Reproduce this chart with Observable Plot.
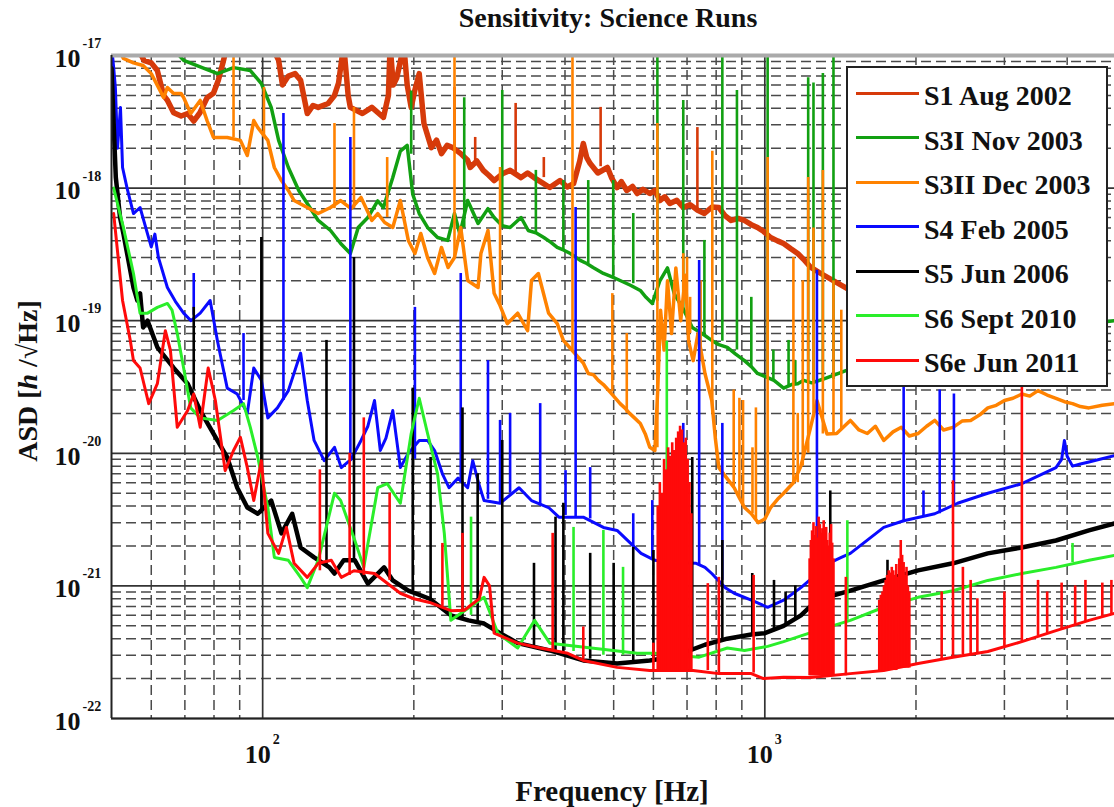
<!DOCTYPE html>
<html>
<head>
<meta charset="utf-8">
<script src="https://cdn.jsdelivr.net/npm/d3@7"></script>
<script src="https://cdn.jsdelivr.net/npm/@observablehq/plot@0.6"></script>
<style>
  body { margin: 0; background: #fff; }
  #wrap { position: relative; width: 1114px; height: 807px; overflow: hidden;
          font-family: "Liberation Serif", "Times New Roman", serif; font-weight: bold; color: #111; }
  #wrap svg { position: absolute; left: 0; top: 0; }
  .lbl { position: absolute; white-space: nowrap; transform: translate(-50%, -50%); }
  #title { left: 608px; top: 18px; font-size: 28px; }
  #xlabel { left: 612px; top: 791px; font-size: 29px; }
  #ylabel { left: 28px; top: 381px; font-size: 28px; transform: translate(-50%, -50%) rotate(-90deg); }
  #legend { position: absolute; left: 846px; top: 66px; width: 262px; height: 321px; box-sizing: border-box;
            border: 2px solid #222; background: #fff; }
  .row-line { position: absolute; left: 8px; width: 63px; height: 3px; }
  .row-text { position: absolute; left: 76px; height: 30px; line-height: 30px; font-size: 28px; white-space: nowrap; }
</style>
</head>
<body>
<div id="wrap">
  <div id="title" class="lbl">Sensitivity: Science Runs</div>
  <div id="xlabel" class="lbl">Frequency [Hz]</div>
  <div id="ylabel" class="lbl">ASD [<i>h</i> /√Hz]</div>
</div>
<script>
// Observing runs shown in the legend, with their trace colours
const runNames = ["S1 Aug 2002", "S3I Nov 2003", "S3II Dec 2003", "S4 Feb 2005", "S5 Jun 2006", "S6 Sept 2010", "S6e Jun 2011"];
const runColors = ["#d63a0a", "#12a012", "#ff8200", "#0a0aff", "#000000", "#2aee2a", "#ff0a0a"];

// Axis ticks
const xTicks = [100, 1000];
const yTicks = [1e-22, 1e-21, 1e-20, 1e-19, 1e-18, 1e-17];

// Broadband noise floor of each run: [frequency Hz, strain ASD]
const s1Curve = [
  [56, 1.2e-17], [58, 9.2e-18], [60, 8.8e-18], [61.7, 7.7e-18], [63.5, 5e-18], [64.6, 4.6e-18], [66.5, 3.7e-18],
  [68.8, 3.5e-18], [70.9, 3.65e-18], [72.9, 3.2e-18], [75, 3.7e-18], [77.5, 4.8e-18], [79.8, 5.2e-18], [81.6, 6.5e-18],
  [83.4, 8.9e-18], [85, 1.2e-17], [104, 1.2e-17], [107.6, 9.2e-18], [109.5, 6e-18], [112.5, 7e-18], [116, 7.3e-18],
  [119, 6.5e-18], [122.7, 3.65e-18], [126, 4.2e-18], [129, 4.06e-18], [135, 4.35e-18], [139, 5.0e-18], [141.6, 6.2e-18],
  [145, 1.2e-17], [148, 5e-18], [149.5, 4.06e-18], [158, 3.65e-18], [165, 4.06e-18], [174, 3.41e-18], [178, 5e-18],
  [179.4, 1.2e-17], [182, 6e-18], [185, 6.8e-18], [188, 9e-18], [191, 1.2e-17], [194, 6e-18], [197.6, 4.06e-18],
  [201, 5.5e-18], [205, 7.3e-18], [209.5, 3.07e-18], [216.7, 2.02e-18], [222, 2.3e-18], [227, 1.82e-18], [233, 2.1e-18],
  [239, 2.02e-18], [248, 1.82e-18], [256, 1.62e-18], [259, 1.43e-18], [267, 1.6e-18], [275, 1.36e-18], [282, 1.25e-18],
  [289, 1.14e-18], [301, 1.29e-18], [311, 1.36e-18], [327, 1.2e-18], [337, 1.3e-18], [347, 1.2e-18], [360, 1.1e-18],
  [373, 1.01e-18], [391, 1.14e-18], [404, 1.02e-18], [416, 1.08e-18], [428, 1.6e-18], [435, 2.17e-18], [442, 1.7e-18],
  [449, 1.53e-18], [465, 1.3e-18], [486, 1.43e-18], [495, 1.2e-18], [508, 1.01e-18], [518, 1.12e-18], [531, 9.6e-19],
  [545, 1.03e-18], [557, 9.1e-19], [572, 9.8e-19], [590, 9.1e-19], [604, 9.6e-19], [618, 8.06e-19], [632, 8.6e-19],
  [647, 7.65e-19], [668, 8.1e-19], [688, 7.14e-19], [710, 7.5e-19], [735, 6.8e-19], [758, 6.43e-19], [785, 7.2e-19],
  [810, 7.14e-19], [833, 6.2e-19], [857, 5.7e-19], [885, 5.9e-19], [911, 5.7e-19], [940, 5.3e-19], [967, 5.05e-19],
  [995, 4.7e-19], [1027, 4.24e-19], [1060, 4.0e-19], [1090, 3.82e-19], [1125, 3.5e-19], [1163, 3.21e-19],
  [1200, 2.85e-19], [1235, 2.52e-19], [1293, 2.27e-19], [1480, 1.69e-19], [2000, 1.2e-19]
];
const s3iCurve = [
  [64, 1.3e-17], [69.6, 9.2e-18], [75.1, 8.2e-18], [81.3, 7.3e-18], [87.5, 8.1e-18], [94.5, 7.7e-18], [99.4, 6.15e-18],
  [104, 4.06e-18], [107.6, 2.29e-18], [112.5, 1.43e-18], [118, 9.6e-19], [122.7, 7.65e-19], [129, 5.7e-19], [136.5, 4.79e-19],
  [143, 3.82e-19], [149.5, 3.21e-19], [155, 5.05e-19], [162, 6.0e-19], [169.5, 8e-19], [174, 7.14e-19], [181.6, 1.2e-18],
  [188, 1.9e-18], [194, 2.1e-18], [199, 9e-19], [205, 6.43e-19], [213, 5.05e-19], [223, 4.24e-19], [233.6, 4.03e-19],
  [241, 6.43e-19], [247, 4.5e-19], [256, 8.06e-19], [268.5, 5.41e-19], [281, 7e-19], [289, 6e-19], [300, 5.2e-19],
  [311, 5.05e-19], [327, 6.0e-19], [338, 4.79e-19], [350, 4.6e-19], [363, 4.24e-19], [375, 3.9e-19], [386, 3.57e-19],
  [398, 3.4e-19], [410, 3.21e-19], [429, 2.85e-19], [442, 2.7e-19], [455, 2.52e-19], [477, 2.27e-19], [495, 2.15e-19],
  [515, 2.01e-19], [540, 1.85e-19], [565, 1.69e-19], [580, 1.5e-19], [597, 1.35e-19], [618, 2e-19], [640, 2.5e-19],
  [660, 1.6e-19], [690, 1.2e-19], [717, 8.9e-20], [750, 8e-20], [784, 7.1e-20], [810, 6.6e-20], [842, 6.3e-20],
  [875, 5.6e-20], [911, 5.0e-20], [940, 4.5e-20], [967, 4.0e-20], [1000, 3.8e-20], [1043, 3.55e-20], [1090, 3.1e-20],
  [1130, 3.3e-20], [1163, 3.35e-20], [1195, 3.55e-20], [1240, 3.4e-20], [1300, 3.6e-20], [1450, 4.2e-20],
  [2000, 6e-20], [3000, 8e-20], [4970, 1e-19]
];
const s3iiCurve = [
  [51.6, 1.15e-17], [52.8, 9.5e-18], [55.3, 8.8e-18], [57.8, 8.4e-18], [60, 7.3e-18], [63.5, 4.82e-18], [64.6, 5.74e-18],
  [66.5, 5.17e-18], [68.8, 5.17e-18], [69.6, 4.82e-18], [71.9, 3.65e-18], [75.1, 4.58e-18], [77.5, 3.23e-18], [79.8, 2.41e-18],
  [82.5, 2.41e-18], [85, 2.41e-18], [90.3, 2.29e-18], [93.2, 1.76e-18], [96, 3.23e-18], [97.8, 2.86e-18], [102.4, 2.29e-18],
  [105.5, 1.43e-18], [109, 1.14e-18], [112.5, 9.6e-19], [115.5, 8.06e-19], [122.7, 7.14e-19], [129, 6.43e-19], [136.5, 7.14e-19],
  [143, 8.06e-19], [150, 7e-19], [157, 8.5e-19], [165, 5.7e-19], [169.5, 6.43e-19], [175, 5.5e-19], [181.6, 5.05e-19],
  [188, 8.06e-19], [195, 4.03e-19], [201, 3.21e-19], [206.5, 4.55e-19], [213, 3e-19], [220, 2.27e-19], [227, 3.57e-19],
  [234, 2.52e-19], [241, 3e-19], [248, 5.05e-19], [256, 2.01e-19], [268.5, 1.78e-19], [272, 3.21e-19], [281, 4.79e-19],
  [289, 1.61e-19], [297, 1.3e-19], [307, 9.5e-20], [322, 1.14e-19], [337, 8.4e-20], [343, 2.01e-19], [354, 2.27e-19],
  [371, 1.14e-19], [386, 9.5e-20], [397, 7.1e-20], [410, 6.2e-20], [425, 5.3e-20], [435, 4.8e-20], [445, 4.0e-20],
  [456, 3.9e-20], [466, 3.55e-20], [477, 3.3e-20], [488, 3e-20], [500, 2.7e-20], [515, 2.37e-20], [526, 2.2e-20],
  [538, 2.0e-20], [550, 1.85e-20], [565, 1.68e-20], [578, 1.4e-20], [590, 1.11e-20], [604, 1.05e-20], [612, 3e-20],
  [620, 1.2e-19], [630, 6e-20], [640, 2e-19], [652, 8e-20], [665, 2.5e-19], [680, 1e-19], [695, 2.2e-19], [705, 7e-20],
  [720, 5e-20], [736, 8e-20], [760, 4e-20], [784, 2.5e-20], [797, 1.3e-20], [810, 7.8e-21], [840, 6.5e-21],
  [869, 5.5e-21], [890, 4.6e-21], [911, 3.9e-21], [940, 3.5e-21], [970, 3.0e-21], [1000, 3.2e-21], [1027, 3.9e-21],
  [1060, 4.5e-21], [1090, 5.0e-21], [1140, 6e-21], [1180, 8e-21], [1230, 1.5e-20], [1270, 2.5e-20], [1330, 1.4e-20],
  [1390, 1.41e-20], [1480, 1.77e-20], [1540, 1.5e-20], [1600, 1.41e-20], [1660, 1.6e-20], [1725, 1.25e-20],
  [1800, 1.45e-20], [1870, 1.57e-20], [1940, 1.35e-20], [2020, 1.41e-20], [2100, 1.6e-20], [2180, 1.77e-20],
  [2270, 1.5e-20], [2370, 1.57e-20], [2470, 1.75e-20], [2570, 1.77e-20], [2680, 1.95e-20], [2780, 2.2e-20],
  [2890, 2.3e-20], [3000, 2.5e-20], [3120, 2.6e-20], [3250, 2.8e-20], [3370, 2.7e-20], [3500, 2.97e-20],
  [3650, 2.75e-20], [3800, 2.6e-20], [3950, 2.45e-20], [4100, 2.37e-20], [4250, 2.25e-20], [4420, 2.2e-20],
  [4700, 2.3e-20], [4970, 2.37e-20]
];
const s4Curve = [
  [50, 1.2e-17], [50.5, 8.1e-18], [50.9, 5.7e-18], [51.4, 2.0e-18], [52.1, 4.06e-18], [52.6, 1.43e-18], [53.7, 1e-18],
  [55.3, 6.43e-19], [57, 7.14e-19], [59, 4.5e-19], [60, 3.6e-19], [61, 4.5e-19], [62, 3e-19], [64.6, 1.78e-19], [67, 1.4e-19],
  [69.6, 1.14e-19], [72, 1.0e-19], [75.1, 1.14e-19], [78.6, 1.42e-19], [81.3, 7e-20], [85, 3.1e-20], [89, 2.8e-20],
  [93.2, 2e-20], [96, 4.4e-20], [99.4, 3.55e-20], [102.4, 1.85e-20], [107, 2.2e-20], [112.5, 2.97e-20], [119, 5.7e-20],
  [122.7, 2.5e-20], [126.6, 1.25e-20], [132.6, 8.8e-21], [139, 1.11e-20], [143.4, 7.8e-21], [150, 9e-21], [157, 1.25e-20],
  [162, 1.6e-20], [167, 2.5e-20], [171.5, 1.05e-20], [176, 1.3e-20], [181.6, 2.1e-20], [188, 7.8e-21], [195, 1e-20],
  [205, 1.25e-20], [213, 1.25e-20], [220, 1.05e-20], [228, 7e-21], [235, 5.5e-21], [245, 6.5e-21], [256, 5.5e-21],
  [262, 8.8e-21], [269, 6e-21], [276, 4.4e-21], [297, 4.2e-21], [324, 5.5e-21], [343, 4.4e-21], [371, 3.9e-21],
  [389, 3.3e-21], [435, 3.3e-21], [477, 2.76e-21], [508, 2.62e-21], [567, 1.76e-21], [604, 1.56e-21], [650, 1.5e-21],
  [730, 1.48e-21], [760, 1.38e-21], [784, 1.24e-21], [834, 9.7e-22], [869, 8.8e-22], [940, 7.8e-22], [1013, 6.9e-22],
  [1090, 7.8e-22], [1180, 9.7e-22], [1260, 1.2e-21], [1350, 1.5e-21], [1420, 1.64e-21], [1480, 1.76e-21], [1725, 2.76e-21],
  [1890, 3.1e-21], [2180, 3.5e-21], [2420, 4.2e-21], [2780, 5e-21], [3250, 5.9e-21], [3800, 7.8e-21], [3900, 9e-21],
  [3950, 1.25e-20], [4000, 9.5e-21], [4100, 8e-21], [4250, 8.3e-21], [4420, 8.6e-21], [4970, 9.6e-21]
];
const s5Curve = [
  [50, 8e-18], [50.5, 3e-18], [51, 1.2e-18], [52, 6e-19], [52.8, 4.55e-19], [55.3, 1.78e-19], [56.3, 1.42e-19],
  [57, 1.61e-19], [57.8, 8.9e-20], [59, 1e-19], [61.7, 6.3e-20], [66.5, 4.4e-20], [70.9, 3.35e-20], [75.1, 2.1e-20],
  [79.8, 1.41e-20], [85, 9.3e-21], [89, 5.5e-21], [93.2, 3.9e-21], [97.8, 3.5e-21], [104, 4.4e-21], [109, 2.49e-21],
  [114.5, 3.5e-21], [119, 1.95e-21], [126.6, 1.64e-21], [135.8, 1.38e-21], [139, 1.24e-21], [145, 1.56e-21],
  [152.6, 1.56e-21], [162, 1.04e-21], [174.5, 1.38e-21], [181.6, 1.1e-21], [195, 9.2e-22], [215, 8e-22], [237, 6e-22],
  [257, 5.5e-22], [276, 5.2e-22], [297, 4.4e-22], [322, 3.7e-22], [373, 3.26e-22], [435, 2.74e-22], [508, 2.6e-22],
  [590, 2.74e-22], [650, 2.9e-22], [700, 3.2e-22], [760, 3.6e-22], [842, 4e-22], [940, 4.3e-22], [1000, 4.4e-22],
  [1090, 5e-22], [1180, 6e-22], [1270, 7.8e-22], [1480, 9.2e-22], [1725, 1.1e-21], [2020, 1.31e-21], [2370, 1.48e-21],
  [2780, 1.76e-21], [3250, 1.95e-21], [3800, 2.2e-21], [4420, 2.62e-21], [4970, 2.96e-21]
];
const s6Curve = [
  [50.5, 1e-18], [52.8, 5.05e-19], [55.3, 2.27e-19], [57, 1.14e-19], [59, 1.14e-19], [61.7, 1.26e-19], [64.6, 1.35e-19],
  [66, 1.2e-19], [67.6, 8e-20], [69.6, 4.4e-20], [71.9, 2.2e-20], [75.1, 1.85e-20], [81.3, 1.77e-20], [87.5, 2.1e-20],
  [91.6, 2.37e-20], [94.5, 1.57e-20], [97.8, 9.3e-21], [102.4, 3.9e-21], [105.5, 1.64e-21], [112.5, 1.56e-21],
  [119, 1.16e-21], [122.7, 9.7e-22], [129, 1.56e-21], [139, 5e-21], [143, 4.4e-21], [152.6, 2.2e-21], [159, 1.38e-21],
  [169.5, 5.5e-21], [177, 5.9e-21], [188, 4.2e-21], [197.6, 1.41e-20], [205, 2.6e-20], [213, 1.41e-20], [223, 7e-21],
  [230, 2.49e-21], [237, 5.5e-22], [276, 8.2e-22], [294, 4.4e-22], [322, 3.4e-22], [348, 5.5e-22], [373, 3.7e-22],
  [557, 3.1e-22], [604, 3.1e-22], [740, 2.9e-22], [842, 3.4e-22], [911, 3.26e-22], [1013, 3.5e-22], [1090, 3.8e-22],
  [1180, 4.2e-22], [1270, 4.6e-22], [1480, 5.5e-22], [1725, 6.9e-22], [2020, 8.2e-22], [2370, 9.2e-22], [2780, 1.1e-21],
  [3250, 1.24e-21], [3800, 1.38e-21], [4420, 1.56e-21], [4970, 1.7e-21]
];
const s6eCurve = [
  [50.5, 6.43e-19], [52.6, 1.42e-19], [54.5, 7.1e-20], [55.3, 5e-20], [57, 4.4e-20], [59.3, 2.37e-20], [61.7, 3.35e-20],
  [64, 8.4e-20], [65.5, 6e-20], [67.6, 1.57e-20], [70.9, 2.1e-20], [72.9, 2.8e-20], [75.1, 1.57e-20], [77.9, 4.4e-20],
  [80.5, 2.5e-20], [84.2, 7.4e-21], [87.5, 1.05e-20], [90.3, 1.32e-20], [93.2, 7.8e-21], [96, 4.4e-21], [99.4, 8.8e-21],
  [102.4, 2.49e-21], [107.6, 1.76e-21], [111.5, 2.76e-21], [115.5, 1.48e-21], [122.7, 1.16e-21], [129, 1.48e-21],
  [137, 1.56e-21], [143.4, 1.16e-21], [152, 1.3e-21], [167, 1.24e-21], [188, 8.8e-22], [200, 8e-22], [215, 7.5e-22],
  [237, 6.5e-22], [252, 6.55e-22], [270, 8e-22], [276, 1.16e-21], [283, 1e-21], [289, 4.4e-22], [322, 3.7e-22],
  [357, 3.4e-22], [405, 3.1e-22], [435, 2.74e-22], [508, 2.43e-22], [590, 2.3e-22], [720, 2.3e-22], [810, 2.18e-22],
  [940, 2.18e-22], [994, 2e-22], [1090, 2.05e-22], [1235, 2.04e-22], [1480, 2.18e-22], [1725, 2.3e-22], [2020, 2.6e-22],
  [2370, 2.9e-22], [2780, 3.2e-22], [3250, 3.8e-22], [3800, 4.6e-22], [4420, 5.5e-22], [4970, 6.2e-22]
];

// Narrow spectral lines of each run: [frequency Hz, floor ASD, peak ASD]
const s1Lines = [
  [241, 2e-18, 5.74e-18], [265, 1.5e-18, 2.41e-18], [319, 1.3e-18, 4.35e-18], [363, 1.2e-18, 1.7e-18],
  [471, 1.45e-18, 4.06e-18], [734, 6.8e-19, 2.86e-18]
];
const s3iLines = [
  [197.6, 1.8e-18, 5.4e-18], [252, 5e-19, 4.8e-18], [300, 5.2e-19, 5.45e-18], [350, 4.5e-19, 1.36e-18],
  [397, 3.4e-19, 1.14e-18], [445, 2.7e-19, 1.14e-18], [499, 2.1e-19, 1.14e-18], [547, 1.9e-19, 6.43e-19],
  [611, 1.4e-19, 1.2e-17], [688, 1.2e-19, 4.58e-18], [758, 8e-20, 4.03e-19], [823, 7e-20, 1.2e-17],
  [880, 6e-20, 5.45e-18], [940, 4.5e-20, 1.5e-19], [1013, 3.7e-20, 1.2e-17], [1040, 3.6e-20, 6e-20],
  [1115, 3.2e-20, 7.1e-20], [1150, 3.3e-20, 5e-20], [1220, 3.5e-20, 6.8e-18], [1250, 3.5e-20, 6.2e-18],
  [1305, 3.6e-20, 7.3e-18], [1370, 3.6e-20, 1.2e-17]
];
const s3iiLines = [
  [87.5, 2.4e-18, 1.2e-17], [100.6, 2.4e-18, 5.74e-18], [139, 7e-19, 3.07e-18], [152, 7e-19, 4.06e-18],
  [177, 6e-19, 1.7e-18], [241, 3e-19, 1.2e-17], [297, 1.3e-19, 1.43e-18], [414, 6e-20, 1.2e-17],
  [497, 2.9e-20, 1.6e-19], [531, 2e-20, 8e-20], [611, 1.1e-20, 3.07e-18], [688, 1.5e-19, 3.2e-19],
  [700, 1e-19, 3e-19], [710, 8e-20, 1.5e-19], [745, 5e-20, 2e-19], [786, 2e-20, 1.9e-18], [867, 5.5e-21, 3e-20],
  [890, 4.5e-21, 2.6e-20], [905, 4e-21, 2.5e-20], [945, 3.5e-21, 1.1e-20], [960, 3.2e-21, 2.2e-20],
  [1013, 3.5e-21, 1.7e-18], [1140, 6e-21, 3e-19], [1163, 6e-21, 2e-20], [1190, 8e-21, 2e-19], [1220, 1e-20, 1.2e-18],
  [1250, 2e-20, 5e-19], [1305, 1.4e-20, 1.36e-18], [1370, 1.4e-20, 2e-19], [1420, 1.5e-20, 1.2e-19]
];
const s4Lines = [
  [72.9, 1.1e-19, 2.27e-19], [91.6, 2.5e-20, 8e-20], [110, 2.5e-20, 3.65e-18], [149.5, 9e-21, 2.41e-18],
  [201, 9e-21, 1.26e-19], [248, 6e-21, 2.27e-19], [281, 4.5e-21, 5e-20], [297, 4.2e-21, 1.77e-20],
  [311, 5e-21, 2e-20], [357, 4e-21, 2.37e-20], [401, 3.4e-21, 7.4e-21], [420, 3.3e-21, 7.14e-19],
  [449, 3.2e-21, 7.8e-21], [547, 2e-21, 3.5e-21], [597, 1.6e-21, 4.4e-21], [688, 1.5e-21, 1.68e-20],
  [740, 1.45e-21, 2.85e-19], [823, 1.1e-21, 1.68e-20], [1270, 1.1e-21, 2.4e-19], [1890, 3e-21, 3.3e-20],
  [2070, 3.3e-21, 5.2e-21], [2230, 3.5e-21, 3e-20], [2380, 4e-21, 2.8e-20]
];
const s5Lines = [
  [72.9, 3e-20, 1.26e-19], [99.4, 3.5e-21, 4.24e-19], [134, 1.4e-21, 7.1e-20], [152, 1.5e-21, 3e-19],
  [199, 9e-22, 3.1e-20], [216, 8e-22, 9.3e-21], [250, 5.5e-22, 2.2e-20], [268, 5.3e-22, 7e-21],
  [300, 4.4e-22, 1.25e-20], [347, 3.5e-22, 1.48e-21], [383, 3.2e-22, 3.3e-21], [397, 3e-22, 4.2e-21],
  [449, 2.8e-22, 1.76e-21], [500, 2.7e-22, 1.48e-21], [547, 2.7e-22, 1.95e-21], [600, 2.8e-22, 1.85e-21],
  [717, 3.2e-22, 9.3e-21], [823, 3.8e-22, 2.2e-21], [944, 4.3e-22, 1.24e-21], [1043, 4.6e-22, 1.1e-21],
  [1100, 5e-22, 9e-22], [1150, 5.5e-22, 1e-21], [1350, 8e-22, 5.2e-21], [1755, 1.1e-21, 1.56e-21]
];
const s6Lines = [
  [260, 6e-22, 3.3e-21], [416, 3.2e-22, 2.76e-21], [477, 3e-22, 2.62e-21], [522, 3e-22, 1.38e-21],
  [638, 3e-22, 7e-20], [1460, 5.5e-22, 3.1e-21], [4100, 1.5e-21, 2.09e-21]
];
const s6eLines = [
  [130, 1.3e-21, 7.5e-21], [149, 1.2e-21, 1e-20], [159, 1.2e-21, 1.85e-20], [179, 1.1e-21, 5e-21],
  [228, 7e-22, 2.09e-21], [250, 6.5e-22, 2.49e-21], [378, 3.3e-22, 2.49e-21], [435, 2.8e-22, 4.9e-22],
  [600, 2.3e-22, 3.7e-22],
  [612, 2.3e-22, 4e-21], [618, 2.3e-22, 6e-21], [624, 2.3e-22, 5e-21], [630, 2.3e-22, 9e-21], [636, 2.3e-22, 7.5e-21],
  [642, 2.3e-22, 1.1e-20], [648, 2.3e-22, 9.5e-21], [654, 2.3e-22, 1.2e-20], [660, 2.3e-22, 1.05e-20],
  [666, 2.3e-22, 1.3e-20], [672, 2.3e-22, 1.45e-20], [678, 2.3e-22, 1.6e-20], [684, 2.3e-22, 1.5e-20],
  [690, 2.3e-22, 1.2e-20], [696, 2.3e-22, 1.3e-20], [702, 2.3e-22, 9e-21], [708, 2.3e-22, 6e-21], [714, 2.3e-22, 3.5e-21],
  [770, 2.3e-22, 1.04e-21], [810, 2.2e-22, 1.16e-21], [950, 2.2e-22, 1.2e-21],
  [1228, 2.1e-22, 1.6e-21], [1235, 2.1e-22, 2.2e-21], [1242, 2.1e-22, 2.6e-21], [1250, 2.1e-22, 3e-21],
  [1257, 2.1e-22, 2.4e-21], [1265, 2.1e-22, 2.8e-21], [1272, 2.1e-22, 2.3e-21], [1280, 2.1e-22, 3.3e-21],
  [1287, 2.1e-22, 2.9e-21], [1295, 2.1e-22, 2.5e-21], [1302, 2.1e-22, 2.7e-21], [1310, 2.1e-22, 3.1e-21],
  [1317, 2.1e-22, 2.4e-21], [1325, 2.1e-22, 2.76e-21], [1332, 2.1e-22, 2.2e-21], [1340, 2.1e-22, 2e-21],
  [1347, 2.1e-22, 2.5e-21], [1355, 2.1e-22, 2.9e-21], [1362, 2.1e-22, 2.1e-21], [1370, 2.1e-22, 1.6e-21],
  [1450, 2.1e-22, 1.16e-21],
  [1690, 2.3e-22, 7.8e-22], [1702, 2.3e-22, 8.5e-22], [1715, 2.3e-22, 9e-22], [1727, 2.3e-22, 1e-21],
  [1740, 2.3e-22, 1.1e-21], [1752, 2.3e-22, 1.2e-21], [1765, 2.3e-22, 1.3e-21], [1777, 2.3e-22, 1.25e-21],
  [1790, 2.3e-22, 1.38e-21], [1802, 2.3e-22, 1.3e-21], [1815, 2.3e-22, 1.2e-21], [1827, 2.3e-22, 1.45e-21],
  [1840, 2.4e-22, 1.16e-21], [1852, 2.4e-22, 1.6e-21], [1865, 2.4e-22, 2.2e-21], [1877, 2.4e-22, 1.7e-21],
  [1890, 2.4e-22, 1.5e-21], [1902, 2.4e-22, 1.2e-21], [1915, 2.4e-22, 1.38e-21], [1927, 2.4e-22, 1e-21],
  [1940, 2.4e-22, 9e-22],
  [2250, 2.8e-22, 9e-22], [2370, 2.9e-22, 6.2e-21], [2480, 3e-22, 1.38e-21], [2570, 3e-22, 1.1e-21],
  [2650, 3.1e-22, 8e-22], [3000, 3.5e-22, 9e-22], [3250, 3.8e-22, 1e-19], [3500, 4.2e-22, 1.1e-21],
  [3650, 4.4e-22, 9e-22], [3900, 4.7e-22, 1.05e-21], [4150, 5e-22, 1e-21], [4350, 5.3e-22, 1.1e-21],
  [4700, 5.8e-22, 1.05e-21], [4900, 6e-22, 1.1e-21]
];

const runCurves = [s1Curve, s3iCurve, s3iiCurve, s4Curve, s5Curve, s6Curve, s6eCurve];
const runLines = [s1Lines, s3iLines, s3iiLines, s4Lines, s5Lines, s6Lines, s6eLines];
const runWidths = [5.5, 3.5, 3.5, 3, 4.5, 3, 3];

// Log grid: solid at decades, dashed at 2..9 within each decade
const yMinor = [];
for (let e = -22; e < -17; e++) for (let k = 2; k <= 9; k++) yMinor.push(k * Math.pow(10, e));
const xMinor = [60, 70, 80, 90, 200, 300, 400, 500, 600, 700, 800, 900, 2000, 3000, 4000];

const fontFamily = "Liberation Serif, Times New Roman, serif";
const marks = [
  Plot.ruleY(yMinor, {stroke: "#4a4a4a", strokeWidth: 1.5, strokeDasharray: "10,5"}),
  Plot.ruleX(xMinor, {stroke: "#4a4a4a", strokeWidth: 1.5, strokeDasharray: "10,5"}),
  Plot.ruleY(yTicks, {stroke: "#333", strokeWidth: 1.7}),
  Plot.ruleX(xTicks, {stroke: "#333", strokeWidth: 1.7})
];
runCurves.forEach((curve, i) => {
  marks.push(Plot.line(curve, {x: d => d[0], y: d => d[1], stroke: runColors[i], strokeWidth: runWidths[i], clip: true}));
  marks.push(Plot.ruleX(runLines[i], {x: d => d[0], y1: d => d[1], y2: d => d[2], stroke: runColors[i], strokeWidth: 2.6, clip: true}));
});
marks.push(
  Plot.ruleY([1e-17], {stroke: "#aaa", strokeWidth: 4}),
  Plot.ruleY([1e-22], {stroke: "#222", strokeWidth: 2}),
  Plot.ruleX([50], {stroke: "#222", strokeWidth: 2}),
  // y tick labels: "10" with a raised exponent
  Plot.text(yTicks, {x: () => 50, y: d => d, text: () => "10", textAnchor: "end", dx: -31, dy: 3,
    fontSize: 26, fontWeight: "bold", fontFamily, fill: "#111"}),
  Plot.text(yTicks, {x: () => 50, y: d => d, text: d => String(Math.round(Math.log10(d))), textAnchor: "start",
    dx: -29, dy: -12, fontSize: 14, fontWeight: "bold", fontFamily, fill: "#111"}),
  // x tick labels
  Plot.text(xTicks, {x: d => d, y: () => 1e-22, text: () => "10", textAnchor: "end", dx: 8, dy: 36,
    fontSize: 26, fontWeight: "bold", fontFamily, fill: "#111"}),
  Plot.text(xTicks, {x: d => d, y: () => 1e-22, text: d => String(Math.round(Math.log10(d))), textAnchor: "start",
    dx: 10, dy: 21, fontSize: 14, fontWeight: "bold", fontFamily, fill: "#111"})
);

const chart = Plot.plot({
  width: 1114,
  height: 807,
  marginLeft: 111,
  marginRight: 0,
  marginTop: 55,
  marginBottom: 89,
  x: {type: "log", domain: [50, 4970], axis: null},
  y: {type: "log", domain: [1e-22, 1e-17], axis: null},
  style: {background: "transparent", overflow: "visible"},
  marks
});

const wrap = document.getElementById("wrap");
wrap.insertBefore(chart, wrap.firstChild);

// Legend box in the upper right corner
const legend = d3.select(wrap).append("div").attr("id", "legend");
runNames.forEach((name, i) => {
  const y = 25 + 44.5 * i;
  legend.append("div").attr("class", "row-line")
    .style("top", (y - 1.5) + "px").style("background", runColors[i]);
  legend.append("div").attr("class", "row-text")
    .style("top", (y - 12) + "px").text(name);
});
</script>
</body>
</html>
